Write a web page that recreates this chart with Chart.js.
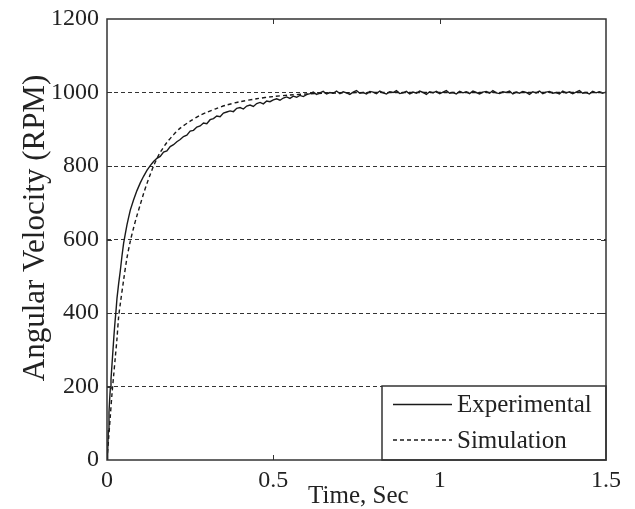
<!DOCTYPE html>
<html>
<head>
<meta charset="utf-8">
<script src="https://cdn.jsdelivr.net/npm/chart.js@4"></script>
<style>
  html, body { margin: 0; background: #fff; }
  #wrap { width: 635px; height: 509px; }
</style>
</head>
<body>
<div id="wrap"><canvas id="myChart"></canvas></div>
<script>
// measured response (noisy)
const expTime = [0, 0.002, 0.004, 0.006, 0.008, 0.010, 0.012, 0.015, 0.018, 0.021, 0.024, 0.027, 0.030,
  0.035, 0.040, 0.045, 0.050, 0.055, 0.060, 0.065, 0.070, 0.080, 0.090, 0.100, 0.110, 0.120,
  0.13, 0.14, 0.15, 0.16, 0.17, 0.18, 0.19, 0.20, 0.21, 0.22, 0.23, 0.24, 0.25, 0.26, 0.27, 0.28, 0.29, 0.30,
  0.31, 0.32, 0.33, 0.34, 0.35, 0.36, 0.37, 0.38, 0.39, 0.40, 0.41, 0.42, 0.43, 0.44, 0.45, 0.46, 0.47, 0.48,
  0.49, 0.50, 0.51, 0.52, 0.53, 0.54, 0.55, 0.56, 0.57, 0.58, 0.59, 0.60, 0.61, 0.62, 0.63, 0.64, 0.65, 0.66,
  0.67, 0.68, 0.69, 0.70, 0.71, 0.72, 0.73, 0.74, 0.75, 0.76, 0.77, 0.78, 0.79, 0.80, 0.81, 0.82, 0.83, 0.84,
  0.85, 0.86, 0.87, 0.88, 0.89, 0.90, 0.91, 0.92, 0.93, 0.94, 0.95, 0.96, 0.97, 0.98, 0.99, 1.00, 1.01, 1.02,
  1.03, 1.04, 1.05, 1.06, 1.07, 1.08, 1.09, 1.10, 1.11, 1.12, 1.13, 1.14, 1.15, 1.16, 1.17, 1.18, 1.19, 1.20,
  1.21, 1.22, 1.23, 1.24, 1.25, 1.26, 1.27, 1.28, 1.29, 1.30, 1.31, 1.32, 1.33, 1.34, 1.35, 1.36, 1.37, 1.38,
  1.39, 1.40, 1.41, 1.42, 1.43, 1.44, 1.45, 1.46, 1.47, 1.48, 1.49, 1.50];
const expRpm = [0, 20, 80, 130, 165, 195, 220, 260, 300, 340, 375, 405, 440,
  480, 515, 555, 590, 615, 640, 660, 680, 708, 733, 754, 772, 788,
  801, 812, 821, 826, 838, 841, 853, 858, 866, 872,
  880, 884, 895, 897, 906, 909, 917, 915, 926, 929,
  936, 934, 944, 947, 950, 948, 957, 959, 955, 963,
  966, 962, 970, 973, 969, 977, 975, 980, 983, 979,
  985, 988, 984, 990, 987, 992, 989, 994,
  997, 1001, 995, 999, 1003, 996, 1000, 998, 1004, 997,
  1002, 999, 995, 1001, 1005, 998, 1000, 996, 1003, 1001,
  997, 1004, 999, 996, 1002, 1000, 1005, 997, 999, 1003,
  996, 1001, 998, 1004, 1000, 995, 1002, 999, 1003, 997,
  1001, 1005, 998, 1000, 996, 1003, 999, 1002, 997, 1004,
  1000, 996, 1001, 1003, 998, 1005, 999, 997, 1002, 1000,
  1004, 996, 1001, 998, 1003, 1000, 995, 1002, 999, 1004,
  997, 1001, 1003, 998, 1000, 996, 1004, 999, 1002, 997,
  1001, 1005, 998, 1000, 996, 1003, 999, 1002, 998, 1001];

// simulated response (smooth)
const simTime = [0, 0.005, 0.01, 0.015, 0.02, 0.025, 0.03, 0.035, 0.04, 0.05, 0.06, 0.07, 0.08, 0.09,
  0.10, 0.11, 0.12, 0.13, 0.14, 0.15, 0.16, 0.18, 0.20, 0.22, 0.25, 0.28, 0.30, 0.33, 0.36, 0.40,
  0.45, 0.50, 0.55, 0.60, 0.65, 0.70, 0.80, 1.0, 1.5];
const simRpm = [0, 60, 120, 180, 230, 280, 330, 390, 425, 490, 550, 595, 632, 665,
  695, 725, 752, 777, 800, 820, 837, 864, 885, 903, 922, 938, 946, 957, 966, 975,
  983, 989, 993, 996, 998, 999, 1000, 1000, 1000];

const xTicks = [0, 0.5, 1, 1.5];
const yTicks = [0, 200, 400, 600, 800, 1000, 1200];
const seriesNames = ['Experimental', 'Simulation'];
const xTitle = 'Time, Sec';
const yTitle = 'Angular Velocity (RPM)';

const serif = "'Liberation Serif', 'Times New Roman', serif";
const ink = '#222';

const toPoints = (xs, ys) => xs.map((t, i) => ({ x: t, y: ys[i] }));

// frame, inward ticks, legend box and axis titles
const decorations = {
    id: 'decorations',
    afterDatasetsDraw(chart) {
        const { ctx, chartArea: a, scales: { x, y } } = chart;
        ctx.save();

        ctx.strokeStyle = '#333';
        ctx.lineWidth = 1;
        ctx.beginPath();
        yTicks.slice(1, -1).forEach(v => {
            const py = Math.round(y.getPixelForValue(v)) + 0.5;
            ctx.moveTo(a.left, py); ctx.lineTo(a.left + 5, py);
            ctx.moveTo(a.right, py); ctx.lineTo(a.right - 5, py);
        });
        xTicks.slice(1, -1).forEach(v => {
            const px = Math.round(x.getPixelForValue(v)) + 0.5;
            ctx.moveTo(px, a.bottom); ctx.lineTo(px, a.bottom - 5);
            ctx.moveTo(px, a.top); ctx.lineTo(px, a.top + 5);
        });
        ctx.stroke();

        // legend
        const lw = 224, lh = 74;
        const lx = a.right - lw, ly = a.bottom - lh;
        ctx.fillStyle = '#fff';
        ctx.fillRect(lx, ly, lw, lh);
        ctx.lineWidth = 1.5;
        ctx.strokeStyle = '#333';
        ctx.strokeRect(lx, ly, lw, lh);

        const rows = [ly + 18.5, ly + 54];
        chart.data.datasets.forEach((ds, i) => {
            ctx.beginPath();
            ctx.lineWidth = 1.4;
            ctx.strokeStyle = ds.borderColor;
            ctx.setLineDash(ds.borderDash || []);
            ctx.moveTo(lx + 11, rows[i]);
            ctx.lineTo(lx + 70, rows[i]);
            ctx.stroke();
            ctx.setLineDash([]);
            ctx.fillStyle = ink;
            ctx.font = '25px ' + serif;
            ctx.textAlign = 'left';
            ctx.textBaseline = 'middle';
            ctx.fillText(ds.label, lx + 75, rows[i] + 1);
        });

        // frame
        ctx.lineWidth = 1.5;
        ctx.strokeStyle = '#333';
        ctx.strokeRect(a.left, a.top, a.width, a.height);

        // axis titles
        ctx.fillStyle = ink;
        ctx.font = '25px ' + serif;
        ctx.textAlign = 'left';
        ctx.textBaseline = 'alphabetic';
        ctx.fillText(xTitle, a.left + a.width * 0.403, a.bottom + 43);

        ctx.save();
        ctx.translate(36, 228);
        ctx.rotate(-Math.PI / 2);
        ctx.font = '31px ' + serif;
        ctx.textAlign = 'center';
        ctx.textBaseline = 'middle';
        ctx.fillText(yTitle, 0, 0);
        ctx.restore();

        ctx.restore();
    }
};

new Chart(document.getElementById('myChart'), {
    type: 'line',
    data: {
        datasets: [{
            label: seriesNames[0],
            data: toPoints(expTime, expRpm),
            borderColor: '#1a1a1a',
            borderWidth: 1.4,
            pointRadius: 0,
            tension: 0,
        }, {
            label: seriesNames[1],
            data: toPoints(simTime, simRpm),
            borderColor: '#1a1a1a',
            borderWidth: 1.4,
            borderDash: [4, 3],
            pointRadius: 0,
            tension: 0.3,
        }]
    },
    options: {
        responsive: true,
        maintainAspectRatio: false,
        animation: false,
        layout: { padding: { left: 0, right: 29, top: 19, bottom: 0 } },
        plugins: {
            legend: { display: false },
            tooltip: { enabled: false },
        },
        scales: {
            x: {
                type: 'linear',
                min: 0,
                max: 1.5,
                afterBuildTicks: s => { s.ticks = xTicks.map(v => ({ value: v })); },
                afterFit: s => { s.height = 49; s.paddingLeft = 0; s.paddingRight = 0; },
                ticks: {
                    color: ink,
                    font: { family: serif, size: 24 },
                    padding: 6,
                    maxRotation: 0,
                    callback: v => String(v),
                },
                grid: { display: false, drawTicks: false },
                border: { display: false },
            },
            y: {
                min: 0,
                max: 1200,
                afterBuildTicks: s => { s.ticks = yTicks.map(v => ({ value: v })); },
                afterFit: s => { s.width = 107; s.paddingTop = 0; s.paddingBottom = 0; },
                ticks: {
                    color: ink,
                    font: { family: serif, size: 24 },
                    padding: 8,
                    callback: v => String(v),
                },
                grid: {
                    drawTicks: false,
                    lineWidth: 1,
                    color: c => (c.tick && (c.tick.value === 0 || c.tick.value === 1200)) ? 'rgba(0,0,0,0)' : '#333',
                },
                border: { display: false, dash: [4, 3] },
            }
        }
    },
    plugins: [decorations]
});
</script>
</body>
</html>
